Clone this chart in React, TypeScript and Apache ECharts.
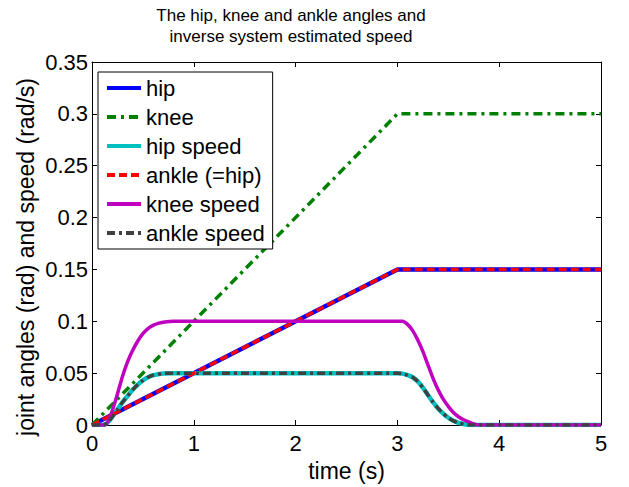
import React, { useEffect, useRef } from "react";
import * as echarts from "echarts";

const titleLines = ["The hip, knee and ankle angles and", "inverse system estimated speed"];
const xAxisName = "time (s)";
const yAxisName = "joint angles (rad) and speed (rad/s)";

const angleTimes = [0, 3, 5];
const hipValues = [0, 0.15, 0.15];
const kneeValues = [0, 0.3, 0.3];
const ankleValues = [0, 0.15, 0.15];

const hipSpeedTimes = [0, 0.1, 0.15, 0.2, 0.25, 0.3, 0.35, 0.4, 0.45, 0.5, 0.55, 0.6, 0.65, 0.7, 0.8, 3.0, 3.05, 3.1, 3.15, 3.2, 3.25, 3.3, 3.35, 3.4, 3.45, 3.5, 3.55, 3.6, 3.65, 3.7, 5];
const hipSpeedValues = [0, 0, 0.002, 0.008, 0.015, 0.022, 0.028, 0.034, 0.039, 0.043, 0.046, 0.048, 0.049, 0.0497, 0.05, 0.05, 0.0495, 0.048, 0.046, 0.042, 0.036, 0.029, 0.022, 0.016, 0.011, 0.007, 0.004, 0.002, 0.001, 0, 0];
const ankleSpeedValues = [0, 0, 0.002, 0.008, 0.015, 0.022, 0.028, 0.034, 0.039, 0.043, 0.046, 0.048, 0.049, 0.0497, 0.05, 0.05, 0.0495, 0.048, 0.046, 0.042, 0.036, 0.029, 0.022, 0.016, 0.011, 0.007, 0.004, 0.002, 0.001, 0, 0];

const kneeSpeedTimes = [0, 0.13, 0.17, 0.2, 0.25, 0.3, 0.35, 0.4, 0.45, 0.5, 0.55, 0.6, 0.65, 0.7, 0.8, 3.0, 3.05, 3.1, 3.15, 3.2, 3.25, 3.3, 3.35, 3.4, 3.45, 3.5, 3.55, 3.6, 3.65, 3.7, 3.75, 3.8, 5];
const kneeSpeedValues = [0, 0, 0.006, 0.014, 0.03, 0.047, 0.061, 0.072, 0.081, 0.088, 0.093, 0.096, 0.098, 0.099, 0.1, 0.1, 0.1, 0.097, 0.091, 0.082, 0.071, 0.058, 0.045, 0.034, 0.025, 0.018, 0.012, 0.008, 0.005, 0.003, 0.001, 0, 0];

const seriesNames = ["hip", "knee", "hip speed", "ankle (=hip)", "knee speed", "ankle speed"];

const pairs = (xs: number[], ys: number[]) => xs.map((x, i) => [x, ys[i]]);

const FONT = "'Liberation Sans', Arial, sans-serif";

export default function App() {
  const ref = useRef<HTMLDivElement>(null);
  useEffect(() => {
    if (!ref.current) return;
    const chart = echarts.init(ref.current, undefined, { renderer: "svg" });
    const tickLabel = { color: "#000", fontSize: 22, fontFamily: FONT };
    chart.setOption({
      animation: false,
      backgroundColor: "#fff",
      title: {
        text: titleLines.join("\n"),
        left: 286,
        top: 0,
        textAlign: "center",
        textStyle: { color: "#000", fontSize: 17, fontWeight: "normal", fontFamily: FONT, lineHeight: 21 },
      },
      grid: { left: 92, right: 28, top: 62, bottom: 54 },
      xAxis: [
        {
          type: "value", min: 0, max: 5, interval: 1, position: "bottom",
          axisLine: { show: true, lineStyle: { color: "#000", width: 1 } },
          axisTick: { show: true, inside: true, length: 5, lineStyle: { color: "#000" } },
          axisLabel: { ...tickLabel, margin: 7, showMinLabel: true, showMaxLabel: true },
          splitLine: { show: false },
          name: xAxisName, nameLocation: "middle", nameGap: 34,
          nameTextStyle: { color: "#000", fontSize: 23, fontFamily: FONT },
        },
        {
          type: "value", min: 0, max: 5, interval: 1, position: "top",
          axisLine: { show: true, onZero: false, lineStyle: { color: "#000", width: 1 } },
          axisTick: { show: true, inside: true, length: 5, lineStyle: { color: "#000" } },
          axisLabel: { show: false },
          splitLine: { show: false },
        },
      ],
      yAxis: [
        {
          type: "value", min: 0, max: 0.35, interval: 0.05, position: "left",
          axisLine: { show: true, onZero: false, lineStyle: { color: "#000", width: 1 } },
          axisTick: { show: true, inside: true, length: 5, lineStyle: { color: "#000" } },
          axisLabel: { ...tickLabel, margin: 4, showMinLabel: true, showMaxLabel: true },
          splitLine: { show: false },
        },
        {
          type: "value", min: 0, max: 0.35, interval: 0.05, position: "right",
          axisLine: { show: true, onZero: false, lineStyle: { color: "#000", width: 1 } },
          axisTick: { show: true, inside: true, length: 5, lineStyle: { color: "#000" } },
          axisLabel: { show: false },
          splitLine: { show: false },
        },
      ],
      legend: {
        orient: "vertical",
        left: 98,
        top: 72,
        padding: [5, 8, 5, 7],
        itemGap: 7,
        itemWidth: 34,
        itemHeight: 14,
        backgroundColor: "#fff",
        borderColor: "#000",
        borderWidth: 1,
        borderRadius: 0,
        itemStyle: { opacity: 0 },
        lineStyle: { width: 4 },
        textStyle: { color: "#000", fontSize: 22, fontFamily: FONT, lineHeight: 22 },
        data: seriesNames,
      },
      graphic: [
        {
          type: "text",
          x: 26,
          y: 257,
          rotation: Math.PI / 2,
          style: {
            text: yAxisName,
            fill: "#000",
            font: `23px ${FONT}`,
            textAlign: "center",
            textVerticalAlign: "middle",
          },
        },
      ],
      series: [
        {
          name: seriesNames[0], type: "line", symbol: "none", data: pairs(angleTimes, hipValues),
          lineStyle: { color: "#0000ff", width: 4.5, type: "solid" }, itemStyle: { color: "#0000ff" },
        },
        {
          name: seriesNames[1], type: "line", symbol: "none", data: pairs(angleTimes, kneeValues),
          lineStyle: { color: "#008000", width: 3.5, type: [9, 5, 3, 5] }, itemStyle: { color: "#008000" },
        },
        {
          name: seriesNames[2], type: "line", symbol: "none", smooth: 0.2,
          data: pairs(hipSpeedTimes, hipSpeedValues),
          lineStyle: { color: "#00bfbf", width: 4.5, type: "solid" }, itemStyle: { color: "#00bfbf" },
        },
        {
          name: seriesNames[3], type: "line", symbol: "none", data: pairs(angleTimes, ankleValues),
          lineStyle: { color: "#ff0000", width: 3.5, type: [8, 4] }, itemStyle: { color: "#ff0000" },
        },
        {
          name: seriesNames[4], type: "line", symbol: "none", smooth: 0.2,
          data: pairs(kneeSpeedTimes, kneeSpeedValues),
          lineStyle: { color: "#bf00bf", width: 3.5, type: "solid" }, itemStyle: { color: "#bf00bf" },
        },
        {
          name: seriesNames[5], type: "line", symbol: "none", smooth: 0.2,
          data: pairs(hipSpeedTimes, ankleSpeedValues),
          lineStyle: { color: "#404040", width: 3.5, type: [8, 4, 3, 4] }, itemStyle: { color: "#404040" },
        },
      ],
    });
    return () => chart.dispose();
  }, []);
  return <div ref={ref} style={{ width: 629, height: 487, position: "absolute", left: 0, top: 0 }} />;
}
